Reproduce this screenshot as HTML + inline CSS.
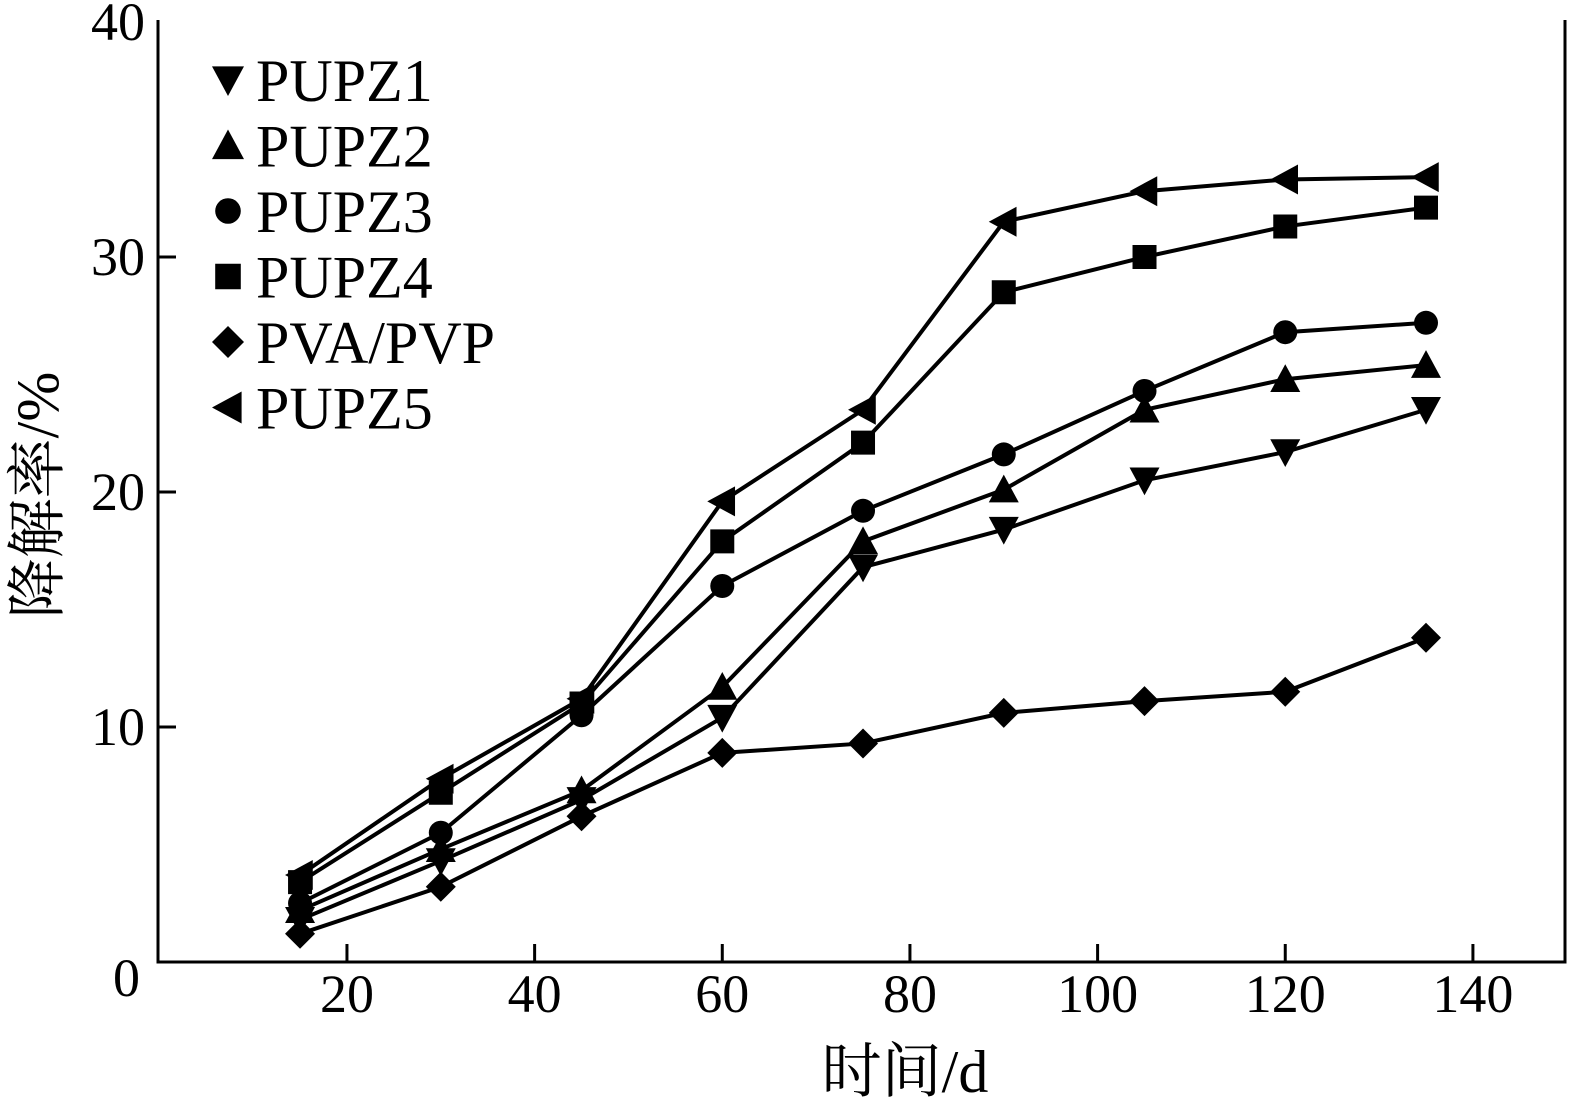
<!DOCTYPE html>
<html><head><meta charset="utf-8"><style>
html,body{margin:0;padding:0;background:#fff;}
svg{display:block;font-family:"Liberation Serif","Noto Serif CJK SC",serif;}
</style></head><body>
<svg id="chart" width="1579" height="1117" viewBox="0 0 1579 1117"></svg>
<script>
const days=[15,30,45,60,75,90,105,120,135];
const pupz1=[1.8,4.3,6.9,10.4,16.8,18.4,20.5,21.7,23.5];
const pupz2=[2.2,4.8,7.3,11.7,17.9,20.1,23.5,24.8,25.4];
const pupz3=[2.5,5.5,10.5,16.0,19.2,21.6,24.3,26.8,27.2];
const pupz4=[3.4,7.2,11.0,17.9,22.1,28.5,30.0,31.3,32.1];
const pvapvp=[1.2,3.2,6.2,8.9,9.3,10.6,11.1,11.5,13.8];
const pupz5=[3.7,7.8,11.2,19.6,23.5,31.5,32.8,33.3,33.4];
const xTicks=[20,40,60,80,100,120,140];
const yTicks=[0,10,20,30,40];
const NS="http://www.w3.org/2000/svg";
const svg=document.getElementById('chart');
const L=158,R=1565,T=20,B=962;
const X=v=>159.3+v*9.383;
const Y=v=>962-v*23.5;
function el(tag,attrs,parent){const e=document.createElementNS(NS,tag);for(const k in attrs)e.setAttribute(k,attrs[k]);(parent||svg).appendChild(e);return e;}
const frame=el('path',{d:`M${L},${T} L${L},${B} L${R},${B} L${R},${T}`,fill:'none',stroke:'#000','stroke-width':3});


xTicks.forEach(t=>{
 const l=el('line',{x1:X(t),x2:X(t),y1:B,y2:B-18,stroke:'#000','stroke-width':3});
 
 
 const tx=el('text',{x:X(t),y:1012,'font-size':54,'text-anchor':'middle'});tx.textContent=t;
 
 
});
yTicks.forEach(t=>{
 if(t>0&&t<40){const l=el('line',{x1:L,x2:L+18,y1:Y(t),y2:Y(t),stroke:'#000','stroke-width':3});
 
 }
 const tx=el('text',{x:t===0?140:145,y:(t===0?Y(t)+34:Y(t)+18),'font-size':54,'text-anchor':'end'});tx.textContent=t;
 
 
});
const xt=el('text',{x:905,y:1092,'font-size':60,'text-anchor':'middle'});xt.textContent='时间/d';


const yt=el('text',{x:0,y:0,'font-size':60,'text-anchor':'middle',transform:'translate(58,495) rotate(-90)'});yt.textContent='降解率/%';


function marker(kind,x,y,s){
 let d;
 if(kind==='down')d=`M${x-s},${y-s*0.85} L${x+s},${y-s*0.85} L${x},${y+s} Z`;
 else if(kind==='up')d=`M${x-s},${y+s*0.85} L${x+s},${y+s*0.85} L${x},${y-s} Z`;
 else if(kind==='left')d=`M${x+s*0.85},${y-s} L${x+s*0.85},${y+s} L${x-s},${y} Z`;
 else if(kind==='diamond')d=`M${x},${y-s} L${x+s},${y} L${x},${y+s} L${x-s},${y} Z`;
 else if(kind==='square')d=`M${x-s*0.8},${y-s*0.8} h${s*1.6} v${s*1.6} h${-s*1.6} Z`;
 if(kind==='circle')return el('circle',{cx:x,cy:y,r:s*0.8,fill:'#000'});
 return el('path',{d,fill:'#000'});
}
const series=[['PUPZ1',pupz1,'down'],['PUPZ2',pupz2,'up'],['PUPZ3',pupz3,'circle'],['PUPZ4',pupz4,'square'],['PVA/PVP',pvapvp,'diamond'],['PUPZ5',pupz5,'left']];
series.forEach(([name,vals,kind],i)=>{
 const pts=vals.map((v,j)=>X(days[j])+','+Y(v)).join(' ');
 const pl=el('polyline',{points:pts,fill:'none',stroke:'#000','stroke-width':4});
 
 
 vals.forEach((v,j)=>{const m=marker(kind,X(days[j]),Y(v),15);
  
  });
 const ly=80+i*65.5;
 const lm=marker(kind,228,ly,16);
 
 
 const lt=el('text',{x:256,y:ly+21,'font-size':60});lt.textContent=name;
 
 
});
</script>
</body></html>
